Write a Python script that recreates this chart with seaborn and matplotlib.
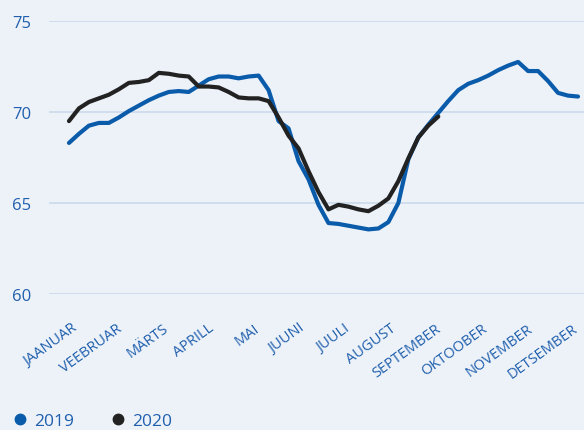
import numpy as np
import pandas as pd
import matplotlib.pyplot as plt
import seaborn as sns
from matplotlib.lines import Line2D

# Weekly values
values_2019 = [68.3, 68.8, 69.25, 69.4, 69.4, 69.7, 70.05, 70.35, 70.65, 70.9,
               71.1, 71.15, 71.1, 71.45, 71.8, 71.95, 71.95, 71.85, 71.95, 72.0,
               71.2, 69.5, 69.1, 67.3, 66.3, 64.9, 63.9, 63.85, 63.75, 63.65,
               63.55, 63.6, 63.95, 65.0, 67.4, 68.6, 69.3, 69.95, 70.6, 71.2,
               71.55, 71.75, 72.0, 72.3, 72.55, 72.75, 72.25, 72.25, 71.7, 71.05,
               70.9, 70.85]
values_2020 = [69.5, 70.2, 70.55, 70.75, 70.95, 71.25, 71.6, 71.65, 71.75, 72.15,
               72.1, 72.0, 71.95, 71.4, 71.4, 71.35, 71.1, 70.8, 70.75, 70.75,
               70.6, 69.7, 68.7, 68.0, 66.75, 65.6, 64.65, 64.9, 64.8, 64.65,
               64.55, 64.85, 65.25, 66.2, 67.45, 68.6, 69.25, 69.75]
months = ['JAANUAR', 'VEEBRUAR', 'MÄRTS', 'APRILL', 'MAI', 'JUUNI', 'JUULI',
          'AUGUST', 'SEPTEMBER', 'OKTOOBER', 'NOVEMBER', 'DETSEMBER']
years = ['2019', '2020']

blue = '#0A5BAA'
black = '#222222'
label_color = '#1F5FAD'
bg = '#EDF2F9'

df = pd.concat([
    pd.DataFrame({'week': np.arange(1, len(values_2019) + 1), 'value': values_2019, 'year': '2019'}),
    pd.DataFrame({'week': np.arange(1, len(values_2020) + 1), 'value': values_2020, 'year': '2020'}),
])

sns.set_style('white')
plt.rcParams['font.family'] = ['Open Sans', 'DejaVu Sans']

fig = plt.figure(figsize=(5.84, 4.31), dpi=100, facecolor=bg)
ax = fig.add_axes([49 / 584, 1 - 295 / 431, 535 / 584, 273 / 431])
ax.set_facecolor(bg)

sns.lineplot(data=df, x='week', y='value', hue='year', palette=[blue, black],
             linewidth=3, ax=ax, legend=False, clip_on=False)

ax.set_xlim(-1.0, 52.6)
ax.set_ylim(60, 75)
ax.set_yticks([60, 65, 70, 75])
ax.yaxis.grid(True, color='#C9D9EA', linewidth=1.2)
ax.set_axisbelow(True)
for s in ax.spines.values():
    s.set_visible(False)

month_pos = np.linspace(1.2, 51.4, 12)
ax.set_xticks(month_pos)
ax.set_xticklabels(months, rotation=36, ha='right', va='top', rotation_mode='anchor')
ax.tick_params(axis='x', length=0, pad=19, labelsize=10.5, labelcolor=label_color)
ax.tick_params(axis='y', length=0, pad=13, labelsize=12, labelcolor=label_color)
ax.set_xlabel('')
ax.set_ylabel('')

handles = [Line2D([], [], marker='o', linestyle='none', color=c, markersize=7.5)
           for c in [blue, black]]
fig.legend(handles, years, loc='lower left', bbox_to_anchor=(-0.008, -0.035), ncol=2,
           frameon=False, fontsize=12.5, labelcolor=label_color, handletextpad=0.35,
           columnspacing=2.0, handlelength=1.0)

fig.savefig('out.png', dpi=100, facecolor=bg)
